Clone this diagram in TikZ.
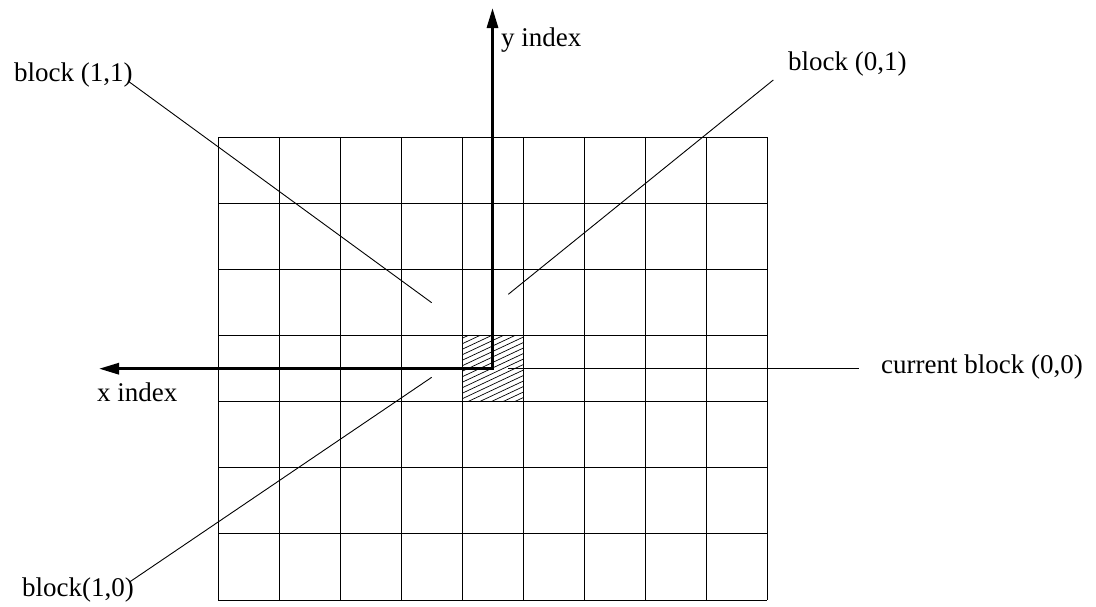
\documentclass[tikz,border=0pt]{standalone}
\usepackage{fontspec}
\setmainfont{Liberation Serif}
\usetikzlibrary{arrows.meta}
\begin{document}
\begin{tikzpicture}[x=1pt,y=-1pt,
  gridline/.style={line width=1pt},
  axis/.style={line width=3pt,line join=miter,{Triangle[length=20pt,width=11pt]}-{Triangle[length=20pt,width=11pt]}},
  leader/.style={line width=0.9pt},
  lbl/.style={anchor=base west,inner sep=0pt,font=\fontsize{27}{31}\selectfont},
  hatchline/.style={line width=0.7pt},
  cellbox/.style={minimum width=60.4pt,minimum height=66pt,inner sep=0pt}]
\useasboundingbox (0,0) rectangle (1096,606);
% current block with hatching
\node[cellbox] (cur) at (492.5,368.7) {};
\begin{scope}
  \clip (cur.north west) rectangle (cur.south east);
  \foreach \i in {-6,...,16} { \draw[hatchline] (450,{410-\i*5.5}) -- ++(100,-47); }
\end{scope}
% grid
\foreach \k in {0,...,9} \draw[gridline] ({218.3+61*\k},137.3) -- ({218.3+61*\k},600);
\foreach \k in {0,...,7} \draw[gridline] (218.3,{137.3+66.1*\k}) -- (767.3,{137.3+66.1*\k});
% axes
\coordinate (ytip) at (492.5,8);
\coordinate (xtip) at (99,368.7);
\draw[axis] (xtip) -- (cur.center) -- (ytip);
% labels
\node[lbl] (b11) at (14,81) {block (1,1)};
\node[lbl] (yl) at (501,46) {y index};
\node[lbl] (b01) at (788,70) {block (0,1)};
\node[lbl] (xl) at (97,401.7) {x index};
\node[lbl] (curl) at (881,373) {current block (0,0)};
\node[lbl] (b10) at (22,596.5) {block(1,0)};
% leader lines
\coordinate (b11s) at (128,81);
\coordinate (b11e) at (431.7,302.7);
\coordinate (b01s) at (773.3,80);
\coordinate (b01e) at (508.3,294.3);
\coordinate (b10s) at (130,581.7);
\coordinate (b10e) at (431.7,377.3);
\coordinate (curs) at (508,368.7);
\coordinate (cure) at (859,368.7);
\draw[leader] (b11s) -- (b11e);
\draw[leader] (b01s) -- (b01e);
\draw[leader] (b10s) -- (b10e);
\draw[leader] (curs) -- (cure);
\end{tikzpicture}
\end{document}
